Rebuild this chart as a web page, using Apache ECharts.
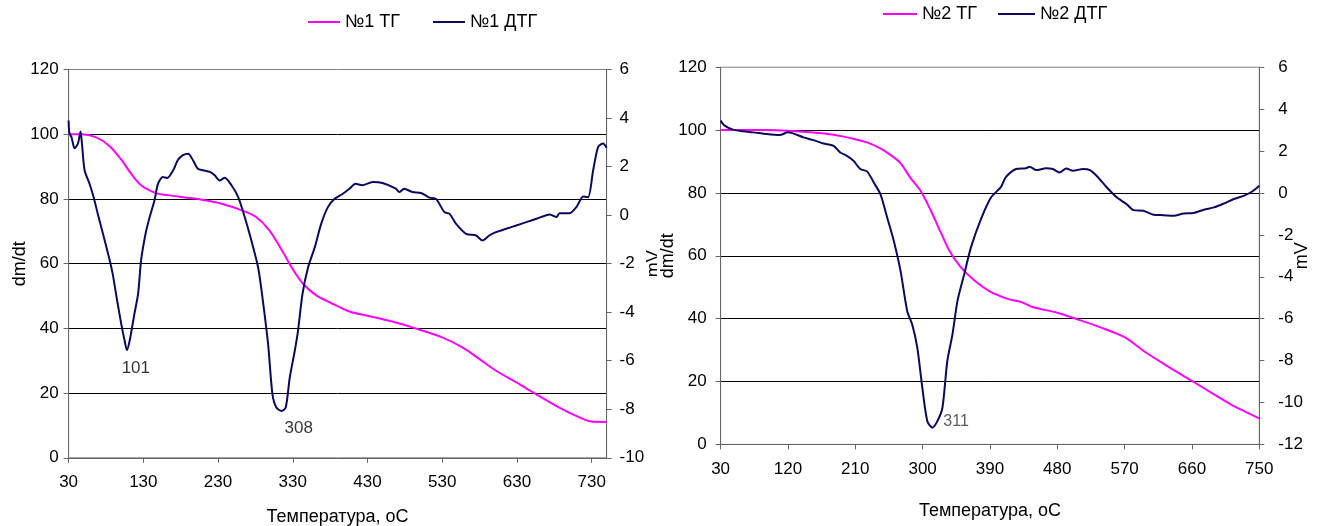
<!DOCTYPE html>
<html><head><meta charset="utf-8">
<script src="https://cdn.jsdelivr.net/npm/echarts@6/dist/echarts.min.js"></script>
<style>
html,body{margin:0;padding:0;background:#fff;width:1328px;height:526px;overflow:hidden;}
#c1{position:absolute;left:0;top:0;width:660px;height:526px;}
#c2{position:absolute;left:657px;top:0;width:671px;height:526px;background:#fff;}
</style></head><body>
<div id="c1"></div><div id="c2"></div>
<script>
// ---------- Data: sample №1 ----------
const tg1Temp = [30,47,67,85,103,112,127,147,165,192,210,230,263,281,299,317,330,344,362,380,406,430,468,490,530,557,580,602,630,656,683,710,730,750];
const tg1Mass = [100,100,99,96.3,91.4,88.3,84.2,81.8,81.1,80.3,79.7,78.8,76.4,74.4,70.2,63.5,58.3,53.7,50.1,48.0,45.2,43.9,41.8,40.3,37.2,34.1,30.5,26.9,23.2,19.6,16.0,12.9,11.2,11.1];
const dtg1Temp = [30,31,34,38,42.5,46,48,51.4,58,63.5,69,76,84,89,95,100.5,105,108,111.7,118,123,127,133,138.5,145,149.6,156,162,170,176,183,190,196.5,203,210,219,225.5,232,239,248,257,265.7,274.6,283.6,290,297,302.8,308,315,320.6,326,332.7,337,343,350.5,359.5,368,377,386,397,406,414,423,437,450,468,472.5,479,490,501.6,513,521.7,533,539.6,548.6,562,575.4,584,593,602,615.7,629,642.5,656,674,683,687,700.7,709.6,718.6,725.3,732,738.7,745.4,749.9];
const dtg1mV = [3.9,3.4,3.2,2.75,2.95,3.45,2.9,1.85,1.29,0.74,0.06,-0.77,-1.74,-2.42,-3.53,-4.49,-5.18,-5.56,-5.18,-4.08,-3.25,-1.87,-0.77,-0.08,0.61,1.29,1.57,1.53,1.85,2.26,2.47,2.53,2.26,1.91,1.85,1.78,1.64,1.43,1.54,1.23,0.74,-0.08,-1.05,-2.15,-3.53,-5.32,-7.38,-7.93,-8.07,-7.93,-6.69,-5.59,-4.77,-3.25,-2.15,-1.32,-0.36,0.33,0.67,0.88,1.09,1.29,1.23,1.36,1.32,1.09,0.95,1.09,0.95,0.91,0.72,0.67,0.12,0.06,-0.36,-0.77,-0.84,-1.05,-0.84,-0.70,-0.56,-0.43,-0.29,-0.15,0.03,-0.08,0.08,0.08,0.33,0.77,0.74,1.85,2.81,2.95,2.78];
const peak1Text = ['101','308'];
const peak1Temp = [120,338];
const peak1mV = [-6.3,-8.8];

// ---------- Data: sample №2 ----------
const tg2Temp = [30,91,120,150,181,210,225.7,243.6,257,270.5,284,297.4,310.8,324,335.4,351,369,391,413.8,431.7,447,480,505.6,537,570,595,626.6,660,689,716,750];
const tg2Mass = [100,100,99.8,99.3,98.5,97.1,96.1,94.2,92.1,89.5,84.7,80.6,74.5,67.6,61.8,56.4,52.2,48.5,46.3,45.3,43.7,41.9,39.9,37.3,34.1,29.8,25.0,20.2,16.0,12.2,8.3];
const dtg2Temp = [30,35.4,46.6,60,73.4,91,109,120,131.7,140.6,154,167.5,181,190,198.8,207.8,216.7,225.7,234.7,243.6,252.6,261.5,270.5,279.4,286,292.9,299.6,306.3,313,319.7,326.5,333,339.9,346.6,355.6,364.5,378,391.4,404.8,411,424.8,438,443,452,465,474,483,492,501,514.5,523.5,532.5,546,559.4,572.8,581.8,595,608.7,622,635.6,649,662,676,689.4,702.9,716,729.8,741,750];
const dtg2mV = [3.45,3.21,3.02,2.94,2.89,2.81,2.76,2.89,2.78,2.65,2.52,2.36,2.25,1.93,1.77,1.53,1.14,1.03,0.50,-0.06,-1.17,-2.29,-3.72,-5.63,-6.27,-7.38,-9.29,-10.89,-11.2,-10.89,-10.25,-8.02,-6.75,-5.15,-3.88,-2.61,-1.25,-0.22,0.29,0.74,1.14,1.18,1.25,1.09,1.18,1.14,0.98,1.17,1.06,1.14,1.09,0.82,0.27,-0.21,-0.54,-0.82,-0.85,-1.04,-1.06,-1.09,-0.98,-0.96,-0.80,-0.69,-0.50,-0.29,-0.13,0.08,0.34];
const peak2Text = ['311'];
const peak2Temp = [327];
const peak2mV = [-10.9];

// ---------- Axis settings (tick values) ----------
const xMin = 30, xMax = 750;
const x1Step = 100, x2Step = 90;
const massMin = 0, massMax = 120, massStep = 20;
const mv1Min = -10, mv1Max = 6, mv2Min = -12, mv2Max = 6, mvStep = 2;

const FONT = '"Liberation Sans", Arial, sans-serif';
const TG_COLOR = '#ff00ff';
const DTG_COLOR = '#0a0a5c';
const AXIS_COLOR = '#666';

const zip = (a, b) => a.map((v, i) => [v, b[i]]);

function legendItem(name, left, top, width) {
  return {
    data: [name], left: left, top: top, icon: 'rect', itemWidth: width, itemHeight: 2,
    itemGap: 5, padding: 0, selectedMode: false,
    textStyle: { fontFamily: FONT, fontSize: 18, color: '#000', padding: [0, 0, 0, 0] }
  };
}

function buildOption(c) {
  const ax = (extra) => Object.assign({
    axisLine: { show: true, onZero: false, lineStyle: { color: AXIS_COLOR, width: 1 } },
    axisTick: { show: true, length: 5, lineStyle: { color: AXIS_COLOR } },
    nameMoveOverlap: false,
    nameTextStyle: { color: '#000', fontFamily: FONT, fontSize: 18 }
  }, extra);
  return {
    animation: false,
    backgroundColor: 'transparent',
    legend: c.legends,
    grid: { left: c.grid.left, top: c.grid.top, width: c.grid.width, height: c.grid.height,
            outerBoundsMode: 'none', containLabel: false,
            show: true, borderColor: '#808080', borderWidth: 1, backgroundColor: 'transparent' },
    xAxis: ax({
      type: 'value', min: xMin, max: xMax, interval: c.xStep,
      name: 'Температура, оС', nameLocation: 'middle', nameGap: c.xNameGap,
      axisLabel: { color: '#000', fontFamily: FONT, fontSize: 17, margin: 16, showMaxLabel: c.showMaxX },
      splitLine: { show: false }
    }),
    yAxis: [
      ax({
        type: 'value', min: massMin, max: massMax, interval: massStep, position: 'left',
        name: 'dm/dt', nameLocation: 'middle', nameRotate: 90, nameGap: c.yNameGap,
        axisLabel: { color: '#000', fontFamily: FONT, fontSize: 17, margin: c.yLabelMargin },
        splitLine: { show: true, showMinLine: false, showMaxLine: false, lineStyle: { color: '#000', width: 1 } }
      }),
      ax({
        type: 'value', min: c.mvMin, max: c.mvMax, interval: mvStep, position: 'right',
        name: 'mV', nameLocation: 'middle', nameRotate: 90, nameGap: c.mvNameGap,
        axisLabel: { color: '#000', fontFamily: FONT, fontSize: 17, margin: c.mvLabelMargin },
        splitLine: { show: false }
      })
    ],
    series: [
      { type: 'line', name: c.tgName, yAxisIndex: 0, data: zip(c.tgT, c.tgV), symbol: 'none', smooth: 0.3,
        lineStyle: { color: TG_COLOR, width: 2 }, itemStyle: { color: TG_COLOR }, z: 3 },
      { type: 'line', name: c.dtgName, yAxisIndex: 1, data: zip(c.dtgT, c.dtgV), symbol: 'none', smooth: 0.25,
        lineStyle: { color: DTG_COLOR, width: 2 }, itemStyle: { color: DTG_COLOR }, z: 4 },
      { type: 'scatter', yAxisIndex: 1, symbolSize: 1, itemStyle: { color: 'rgba(0,0,0,0)' }, silent: true,
        data: c.peakText.map((t, i) => ({ name: t, value: [c.peakT[i], c.peakV[i]] })),
        label: Object.assign({ show: true, formatter: '{b}', fontFamily: FONT, color: '#000' }, c.peakLabel), z: 5 }
    ]
  };
}

const chart1 = echarts.init(document.getElementById('c1'), null, { renderer: 'canvas' });
chart1.setOption(buildOption({
  legends: [legendItem('№1 ТГ', 308, 13, 32), legendItem('№1 ДТГ', 433, 13, 32)],
  grid: { left: 68.6, top: 69.5, width: 538, height: 388.3 },
  xStep: x1Step, showMaxX: false, xNameGap: 50, yNameGap: 40, yLabelMargin: 10,
  mvNameGap: 38, mvLabelMargin: 13,
  mvMin: mv1Min, mvMax: mv1Max,
  tgName: '№1 ТГ', dtgName: '№1 ДТГ',
  tgT: tg1Temp, tgV: tg1Mass, dtgT: dtg1Temp, dtgV: dtg1mV,
  peakText: peak1Text, peakT: peak1Temp, peakV: peak1mV,
  peakLabel: { position: 'inside', fontSize: 17 }
}));

const chart2 = echarts.init(document.getElementById('c2'), null, { renderer: 'canvas' });
chart2.setOption(buildOption({
  legends: [legendItem('№2 ТГ', 226, 5, 34), legendItem('№2 ДТГ', 341, 5, 37)],
  grid: { left: 63.6, top: 67.2, width: 538.7, height: 377.2 },
  xStep: x2Step, showMaxX: true, xNameGap: 58, yNameGap: 44, yLabelMargin: 14,
  mvNameGap: 34, mvLabelMargin: 19,
  mvMin: mv2Min, mvMax: mv2Max,
  tgName: '№2 ТГ', dtgName: '№2 ДТГ',
  tgT: tg2Temp, tgV: tg2Mass, dtgT: dtg2Temp, dtgV: dtg2mV,
  peakText: peak2Text, peakT: peak2Temp, peakV: peak2mV,
  peakLabel: { position: 'right', distance: 0, fontSize: 16, color: '#333' }
}));
</script>
</body></html>
